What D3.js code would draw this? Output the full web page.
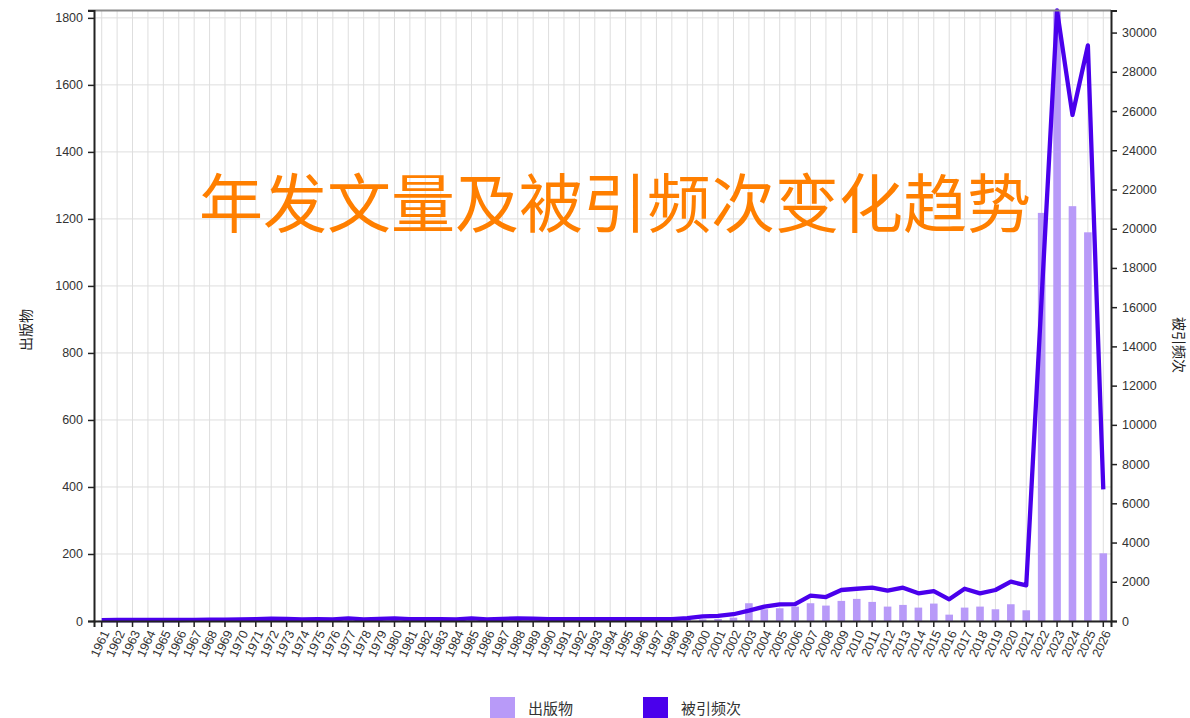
<!DOCTYPE html>
<html>
<head>
<meta charset="utf-8">
<script src="https://cdn.jsdelivr.net/npm/d3@7"></script>
<style>
  body { margin: 0; background: #fff; }
  svg { display: block; font-family: "Noto Sans CJK SC", "Noto Sans", sans-serif; }
</style>
</head>
<body>
<svg id="chart" width="1190" height="718"></svg>
<script>
// years 1961 - 2026
var years = d3.range(1961, 2027).map(String);

// 出版物 (bars, left axis)
var pubs = [1, 1, 1, 2, 1, 1, 2, 2, 1, 2, 3, 3, 3, 2, 3, 2, 3, 2, 3, 3,
    2, 3, 2, 2, 3, 2, 3, 3, 3, 2, 3, 3, 3, 3, 3, 3, 3, 4, 4,
    5, 6, 10, 53, 35, 38, 43, 53, 46, 60, 66, 57, 43, 48, 40, 52, 19, 40, 43, 35, 50, 32,
    1218, 1822, 1238, 1160, 202];

// 被引频次 (line, right axis)
var cites = [40, 50, 50, 60, 50, 50, 60, 70, 70, 80, 100, 120, 110, 80, 90, 80, 130, 80, 110, 130,
    100, 100, 90, 80, 130, 80, 110, 130, 120, 100, 100, 100, 90, 90, 90, 90, 90, 100, 150,
    240, 265, 345, 525, 730, 850, 860, 1290, 1220, 1580, 1645, 1697, 1545, 1697, 1410, 1528, 1105, 1645, 1410, 1580, 2003, 1818,
    16500, 31125, 25800, 29343, 6709];

var leftTicks = d3.range(0, 1801, 200);
var rightTicks = d3.range(0, 30001, 2000);

var svg = d3.select('#chart');
// plot edges ("top" is taken by window.top, so prefix them)
var pLeft = 94, pRight = 1111, pTop = 10.5, pBottom = 621;

var x = d3.scaleBand()
    .domain(years)
    .range([pLeft, pRight]);

var yL = d3.scaleLinear()
    .domain([0, d3.max(pubs)])
    .range([pBottom, pTop]);

var yR = d3.scaleLinear()
    .domain([0, d3.max(cites)])
    .range([pBottom, pTop]);

function cx(d) { return x(d) + x.bandwidth() / 2; }

// grid
var grid = svg.append('g').attr('class', 'grid');
grid.selectAll('.vgrid')
    .data(years)
    .enter()
    .append('line')
    .attr('x1', cx).attr('x2', cx)
    .attr('y1', pTop).attr('y2', pBottom)
    .attr('stroke', '#dedede')
    .attr('stroke-width', 1);
grid.selectAll('.hgrid')
    .data(leftTicks)
    .enter()
    .append('line')
    .attr('x1', pLeft).attr('x2', pRight)
    .attr('y1', function (d) { return yL(d); })
    .attr('y2', function (d) { return yL(d); })
    .attr('stroke', '#dedede')
    .attr('stroke-width', 1);

// bars
var barW = 7.6;
svg.selectAll('.bar')
    .data(years)
    .enter()
    .append('rect')
    .attr('class', 'bar')
    .attr('x', function (d) { return cx(d) - barW / 2; })
    .attr('y', function (d, i) { return yL(pubs[i]); })
    .attr('width', barW)
    .attr('height', function (d, i) { return pBottom - yL(pubs[i]); })
    .attr('fill', '#b89af8');

// line
var line = d3.line()
    .x(function (d, i) { return cx(years[i]); })
    .y(function (d) { return yR(d); });

svg.append('path')
    .datum(cites)
    .attr('d', line)
    .attr('fill', 'none')
    .attr('stroke', '#4a00ec')
    .attr('stroke-width', 4.3)
    .attr('stroke-linejoin', 'round');

// top border
svg.append('line')
    .attr('x1', pLeft - 6).attr('x2', pRight)
    .attr('y1', pTop).attr('y2', pTop)
    .attr('stroke', '#8a8a8a')
    .attr('stroke-width', 2);

// axes
function styleAxis(g) {
    g.select('.domain').attr('stroke', '#222').attr('stroke-width', 2);
    g.selectAll('.tick line').attr('stroke', '#222').attr('stroke-width', 1.5);
    g.selectAll('.tick text').attr('fill', '#333').style('font-size', '12.5px');
}

var axL = svg.append('g')
    .attr('transform', 'translate(' + pLeft + ',0)')
    .call(d3.axisLeft(yL).tickValues(leftTicks).tickFormat(d3.format('d')).tickSize(6).tickPadding(5));
styleAxis(axL);

var axR = svg.append('g')
    .attr('transform', 'translate(' + pRight + ',0)')
    .call(d3.axisRight(yR).tickValues(rightTicks).tickFormat(d3.format('d')).tickSize(6).tickPadding(5));
styleAxis(axR);

var axB = svg.append('g')
    .attr('transform', 'translate(0,' + pBottom + ')')
    .call(d3.axisBottom(x).tickSize(6).tickPadding(3));
styleAxis(axB);
axB.selectAll('.tick text')
    .attr('text-anchor', 'end')
    .attr('transform', 'translate(4,10) rotate(-65)')
    .attr('dy', '0.35em')
    .attr('x', 0)
    .attr('y', 0)
    .style('font-size', '12.5px');

// axis titles
svg.append('text')
    .attr('transform', 'translate(26,330) rotate(-90)')
    .attr('text-anchor', 'middle')
    .attr('dy', '0.35em')
    .attr('fill', '#222')
    .style('font-size', '14px')
    .text('出版物');

svg.append('text')
    .attr('transform', 'translate(1179,345) rotate(90)')
    .attr('text-anchor', 'middle')
    .attr('dy', '0.35em')
    .attr('fill', '#222')
    .style('font-size', '14px')
    .text('被引频次');

// legend
var legend = [
    { name: '出版物', color: '#b89af8', x: 490 },
    { name: '被引频次', color: '#4a00ec', x: 643 }
];
var lg = svg.selectAll('.legend')
    .data(legend)
    .enter()
    .append('g')
    .attr('class', 'legend');
lg.append('rect')
    .attr('x', function (d) { return d.x; })
    .attr('y', 697)
    .attr('width', 25)
    .attr('height', 24)
    .attr('fill', function (d) { return d.color; });
lg.append('text')
    .attr('x', function (d) { return d.x + 38; })
    .attr('y', 714)
    .attr('fill', '#333')
    .style('font-size', '15px')
    .text(function (d) { return d.name; });

// title
svg.append('text')
    .attr('x', 615)
    .attr('y', 227)
    .attr('text-anchor', 'middle')
    .attr('fill', '#ff7f00')
    .style('font-size', '64px')
    .text('年发文量及被引频次变化趋势');
</script>
</body>
</html>
